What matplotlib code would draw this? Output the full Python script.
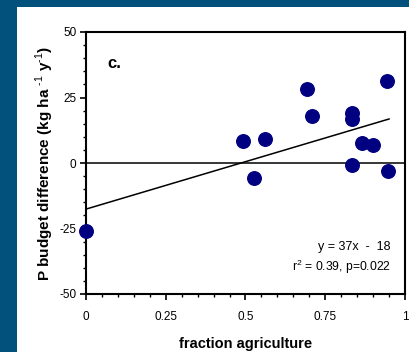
import matplotlib
matplotlib.use("Agg")
import matplotlib.pyplot as plt
from matplotlib.patches import Rectangle
from matplotlib.ticker import MultipleLocator

# Данные
frac_agri = [0.0, 0.493, 0.527, 0.561, 0.693, 0.708, 0.833, 0.833, 0.833, 0.864, 0.901, 0.943, 0.948]
p_diff = [-26.1, 8.4, -5.6, 9.3, 28.4, 17.8, 19.2, 16.7, -0.8, 7.5, 6.9, 31.2, -3.1]

# линия тренда (концы)
trend_x = [0.0, 0.95]
trend_y = [-17.6, 16.8]

x_ticks = [0, 0.25, 0.5, 0.75, 1]
x_labels = ["0", "0.25", "0.5", "0.75", "1"]
y_ticks = [-50, -25, 0, 25, 50]
y_labels = ["-50", "-25", "0", "25", "50"]

plt.rcParams['font.family'] = ['Liberation Sans', 'DejaVu Sans']
plt.rcParams['mathtext.fontset'] = 'custom'
plt.rcParams['mathtext.rm'] = 'Liberation Sans'
plt.rcParams['mathtext.bf'] = 'Liberation Sans:bold'

fig = plt.figure(figsize=(4.10, 3.52), dpi=100)
fig.patch.set_facecolor('#02507c')
# белая подложка
fig.patches.append(Rectangle((17 / 410, 0), 1, (352 - 7) / 352,
                             transform=fig.transFigure, facecolor='white',
                             edgecolor='none', zorder=-10))

ax = fig.add_axes([86 / 410, (352 - 294) / 352, 319 / 410, 262 / 352])
ax.set_zorder(5)
ax.set_xlim(0, 1)
ax.set_ylim(-50, 50)

ax.axhline(0, color='black', linewidth=1.1, zorder=1)
ax.plot(trend_x, trend_y, color='black', linewidth=1.1, zorder=2)
ax.scatter(frac_agri, p_diff, s=95, color='#000080', zorder=3, clip_on=False)

ax.set_xticks(x_ticks)
ax.set_xticklabels(x_labels)
ax.set_yticks(y_ticks)
ax.set_yticklabels(y_labels)
ax.xaxis.set_minor_locator(MultipleLocator(0.05))
ax.yaxis.set_minor_locator(MultipleLocator(5))
ax.tick_params(axis='both', which='major', direction='out', length=4, width=1.2, labelsize=8.5)
ax.tick_params(axis='both', which='minor', direction='out', length=2.5, width=1)
ax.tick_params(axis='x', which='major', pad=8)
ax.tick_params(axis='y', which='major', pad=3)
for sp in ax.spines.values():
    sp.set_linewidth(1.5)

ax.set_xlabel('fraction agriculture', fontsize=10.5, fontweight='bold', labelpad=10)
ax.set_ylabel('P budget difference (kg ha $^{\\mathbf{\\text{-1}}}$ y$^{\\mathbf{\\text{-1}}}$)',
              fontsize=11, fontweight='bold', labelpad=2)

ax.text(0.066, 37.8, 'c.', fontsize=12, fontweight='bold', va='center', ha='left')
ax.text(0.955, -32.2, 'y = 37x  -  18', fontsize=9, ha='right', va='center')
ax.text(0.955, -39.8, 'r$^2$ = 0.39, p=0.022', fontsize=8.7, ha='right', va='center')

fig.savefig('out.png', dpi=100, facecolor=fig.get_facecolor())
